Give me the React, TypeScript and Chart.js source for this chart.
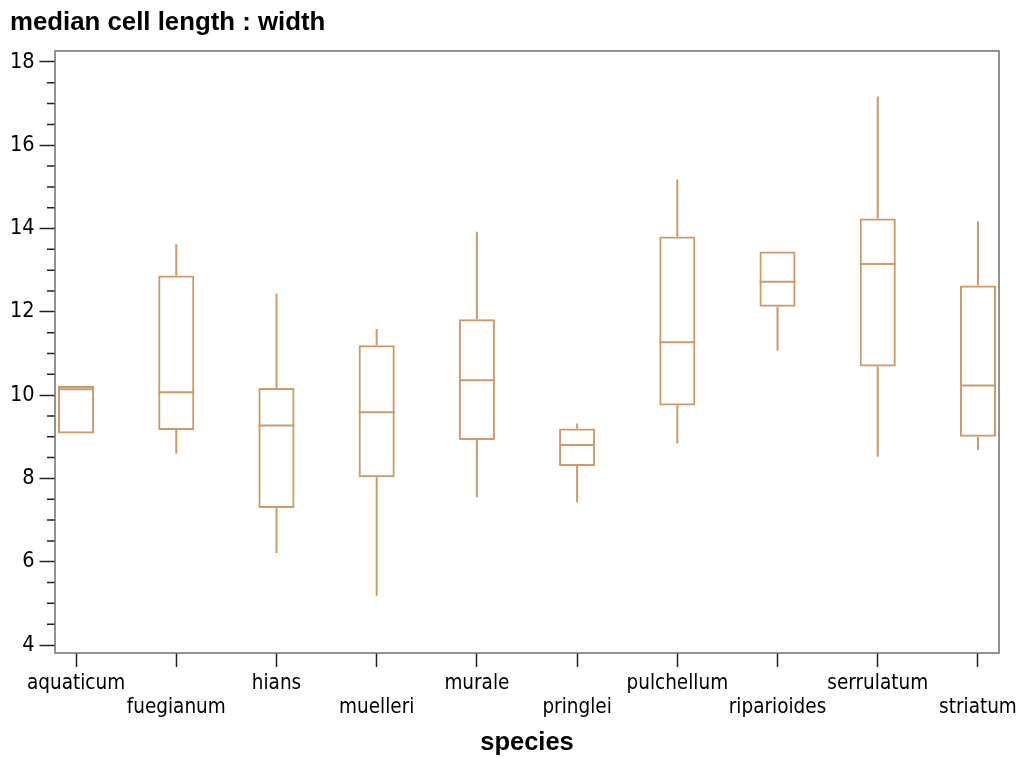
import React, { useEffect, useRef } from 'react';
import { Chart, registerables } from 'chart.js';

Chart.register(...registerables);

// ---- data ----
const categories = [
  'aquaticum', 'fuegianum', 'hians', 'muelleri', 'murale',
  'pringlei', 'pulchellum', 'riparioides', 'serrulatum', 'striatum',
];
const minVals = [9.08, 8.6, 6.21, 5.18, 7.55, 7.43, 8.84, 11.07, 8.52, 8.68];
const q1Vals = [9.08, 9.16, 7.29, 8.03, 8.92, 8.3, 9.75, 12.12, 10.69, 9.0];
const medianVals = [10.14, 10.07, 9.27, 9.59, 10.36, 8.8, 11.27, 12.72, 13.15, 10.23];
const q3Vals = [10.22, 12.87, 10.17, 11.2, 11.82, 9.2, 13.81, 13.45, 14.24, 12.63];
const maxVals = [10.22, 13.62, 12.44, 11.59, 13.92, 9.32, 15.18, 13.45, 17.17, 14.17];

const yTickValues = [4, 6, 8, 10, 12, 14, 16, 18];
const yMinorTickValues = [
  4.5, 5, 5.5, 6.5, 7, 7.5, 8.5, 9, 9.5, 10.5, 11, 11.5,
  12.5, 13, 13.5, 14.5, 15, 15.5, 16.5, 17, 17.5,
];

const BOX_COLOR = '#cd9a68';
const TICK_COLOR = '#222222';
const FRAME_COLOR = '#6f6f6f';
const FONT_TICK = "'DejaVu Sans Condensed', 'Liberation Sans Narrow', 'DejaVu Sans', sans-serif";
const FONT_BOLD = "'Liberation Sans', Arial, sans-serif";

const boxWhiskerPlugin = {
  id: 'boxWhiskers',
  afterDatasetsDraw(chart: any) {
    const meta = chart.getDatasetMeta(0);
    const y = chart.scales.y;
    const ctx = chart.ctx;
    ctx.save();
    ctx.strokeStyle = BOX_COLOR;
    ctx.lineWidth = 2;
    ctx.lineCap = 'butt';
    meta.data.forEach((bar: any, i: number) => {
      const { x, width } = bar.getProps(['x', 'width'], true);
      const left = x - width / 2;
      const right = x + width / 2;
      const yMed = y.getPixelForValue(medianVals[i]);
      ctx.beginPath();
      ctx.moveTo(left, yMed);
      ctx.lineTo(right, yMed);
      if (maxVals[i] > q3Vals[i]) {
        ctx.moveTo(x, y.getPixelForValue(q3Vals[i]));
        ctx.lineTo(x, y.getPixelForValue(maxVals[i]));
      }
      if (minVals[i] < q1Vals[i]) {
        ctx.moveTo(x, y.getPixelForValue(q1Vals[i]));
        ctx.lineTo(x, y.getPixelForValue(minVals[i]));
      }
      ctx.stroke();
    });
    ctx.restore();
  },
};

const framePlugin = {
  id: 'frameAndMinor',
  afterDraw(chart: any) {
    const { ctx, chartArea } = chart;
    const y = chart.scales.y;
    ctx.save();
    ctx.strokeStyle = TICK_COLOR;
    ctx.lineWidth = 1.5;
    ctx.beginPath();
    yMinorTickValues.forEach((v) => {
      const py = y.getPixelForValue(v);
      ctx.moveTo(chartArea.left - 8, py);
      ctx.lineTo(chartArea.left, py);
    });
    ctx.stroke();
    ctx.strokeStyle = FRAME_COLOR;
    ctx.lineWidth = 1.5;
    ctx.strokeRect(
      chartArea.left,
      chartArea.top,
      chartArea.right - chartArea.left,
      chartArea.bottom - chartArea.top,
    );
    ctx.restore();
  },
};

export default function App() {
  const canvasRef = useRef<HTMLCanvasElement | null>(null);

  useEffect(() => {
    if (!canvasRef.current) return;
    const boxData = categories.map((_, i) => ({ x: i, y: [q1Vals[i], q3Vals[i]] }));
    const chart = new Chart(canvasRef.current, {
      type: 'bar',
      data: {
        datasets: [
          {
            label: 'median cell length : width',
            data: boxData as any,
            backgroundColor: 'rgba(0,0,0,0)',
            borderColor: BOX_COLOR,
            borderWidth: 2,
            borderSkipped: false,
            categoryPercentage: 1,
            barPercentage: 0.36,
          },
        ],
      },
      options: {
        responsive: false,
        animation: false,
        devicePixelRatio: 1,
        events: [],
        layout: { padding: { left: 10, right: 20, top: 0, bottom: 0 } },
        plugins: {
          legend: { display: false },
          tooltip: { enabled: false },
          title: {
            display: true,
            text: 'median cell length : width',
            align: 'start',
            color: '#000',
            font: { family: FONT_BOLD, size: 25.8, weight: 'bold' },
            padding: { top: 7.3, bottom: 12.7 },
          },
        },
        scales: {
          x: {
            type: 'linear',
            min: -0.21,
            max: 9.21,
            offset: false,
            afterBuildTicks: (s: any) => {
              s.ticks = categories.map((_, i) => ({ value: i }));
            },
            afterFit: (s: any) => {
              s.height = 106;
              s.paddingLeft = 0;
              s.paddingRight = 0;
            },
            ticks: {
              autoSkip: false,
              maxRotation: 0,
              minRotation: 0,
              padding: 4.5,
              color: '#000',
              font: { family: FONT_TICK, size: 20.5, lineHeight: 1.185 },
              callback: (v: any) => {
                const i = Math.round(Number(v));
                return i % 2 ? ['', categories[i]] : categories[i];
              },
            },
            grid: {
              offset: false,
              drawOnChartArea: false,
              drawTicks: true,
              tickLength: 14,
              tickWidth: 1.5,
              tickColor: TICK_COLOR,
            },
            border: { display: false },
            title: {
              display: true,
              text: 'species',
              color: '#000',
              font: { family: FONT_BOLD, size: 25.5, weight: 'bold' },
              padding: { top: 0, bottom: 1 },
            },
          },
          y: {
            type: 'linear',
            min: 3.808,
            max: 18.264,
            afterBuildTicks: (s: any) => {
              s.ticks = yTickValues.map((v) => ({ value: v }));
            },
            afterFit: (s: any) => {
              s.width = 45;
              s.paddingTop = 0;
              s.paddingBottom = 0;
            },
            ticks: {
              padding: 5,
              color: '#000',
              font: { family: FONT_TICK, size: 21.5 },
              callback: (v: any) => String(v),
            },
            grid: {
              drawOnChartArea: false,
              drawTicks: true,
              tickLength: 15.5,
              tickWidth: 1.5,
              tickColor: TICK_COLOR,
            },
            border: { display: false },
          },
        },
      },
      plugins: [boxWhiskerPlugin, framePlugin],
    });
    return () => chart.destroy();
  }, []);

  return (
    <div style={{ position: 'fixed', left: 0, top: 0, width: 1019, height: 759, background: '#fff' }}>
      <canvas ref={canvasRef} width={1019} height={759} />
    </div>
  );
}
